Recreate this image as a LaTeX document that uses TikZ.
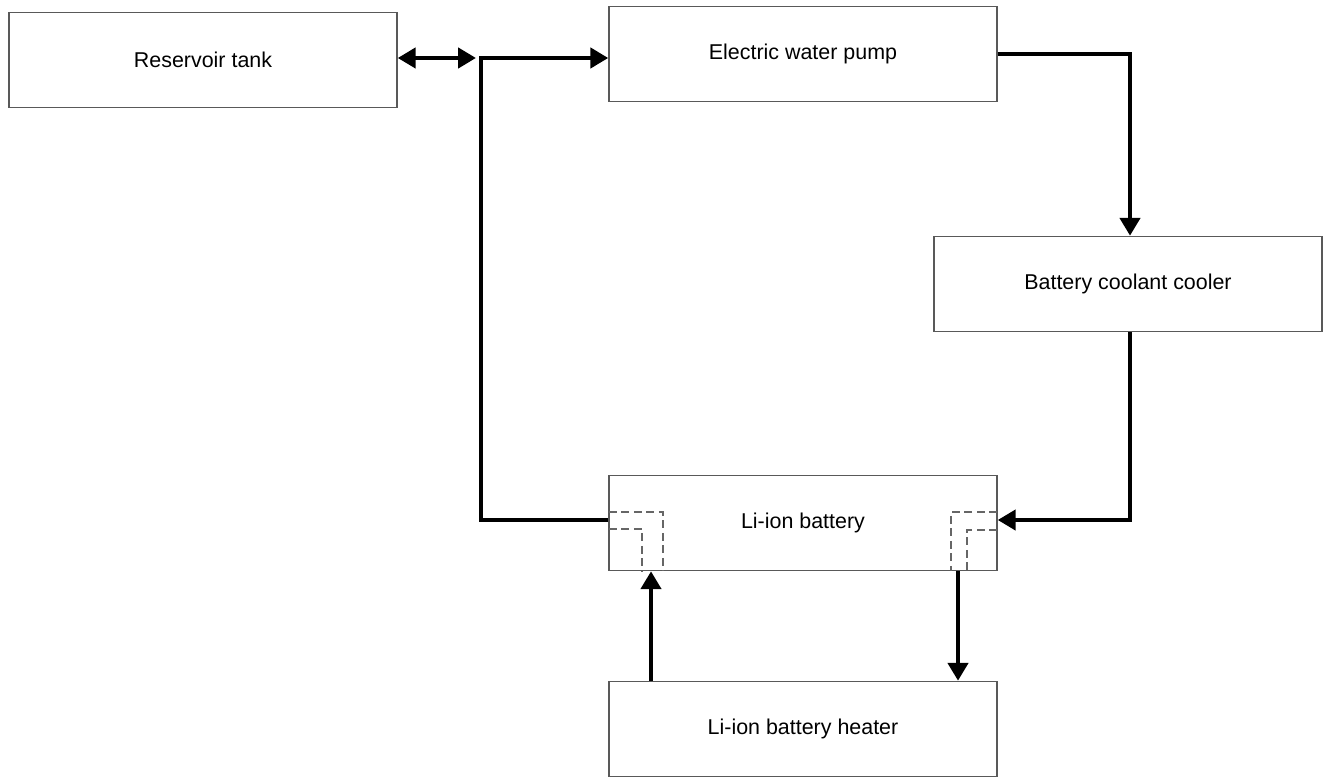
\documentclass[tikz,border=0pt]{standalone}
\usepackage{fontspec}
\setmainfont{Liberation Sans}
\usetikzlibrary{arrows.meta}

\begin{document}
\begin{tikzpicture}[x=0.02cm, y=-0.02cm, >={Triangle[length=0.36cm,width=0.4cm]}, line join=miter,
    unit/.style={draw=black!65, line width=0.85pt, minimum width=7.76cm, minimum height=1.9cm,
      font=\fontsize{12.2}{14}\selectfont},
    flow/.style={line width=2.8pt},
    duct/.style={draw=black!60, line width=0.8pt, dash pattern=on 4.5pt off 2.6pt}]
    \useasboundingbox (0,0) rectangle (1331,780);
    % components
    \node[unit] (tank) at (203,60) {Reservoir tank};
    \node[unit] (pump) at (803,54) {Electric water pump};
    \node[unit] (cooler) at (1128,284) {Battery coolant cooler};
    \node[unit] (battery) at (803,523) {Li-ion battery};
    \node[unit] (heater) at (803,729) {Li-ion battery heater};
    \coordinate (jn) at (481,58);
    % internal passages of the battery
    \draw[duct] (609,512) -| (663,571);
    \draw[duct] (609,529) -| (642,571);
    \draw[duct] (997,512) -| (951,571);
    \draw[duct] (997,530) -| (967,571);
    % coolant loop
    \draw[flow, <->] (tank.east |- jn) -- (476,58);
    \draw[flow, ->] (battery.west |- 0,520) -| (jn) -- (pump.west |- jn);
    \draw[flow, ->] (pump.east) -| (1130,0 |- cooler.north);
    \draw[flow, ->] (1130,0 |- cooler.south) |- (battery.east |- 0,520);
    \draw[flow, ->] (651,0 |- heater.north) -- (651,0 |- battery.south);
    \draw[flow, ->] (958,0 |- battery.south) -- (958,0 |- heater.north);
  \end{tikzpicture}
\end{document}
